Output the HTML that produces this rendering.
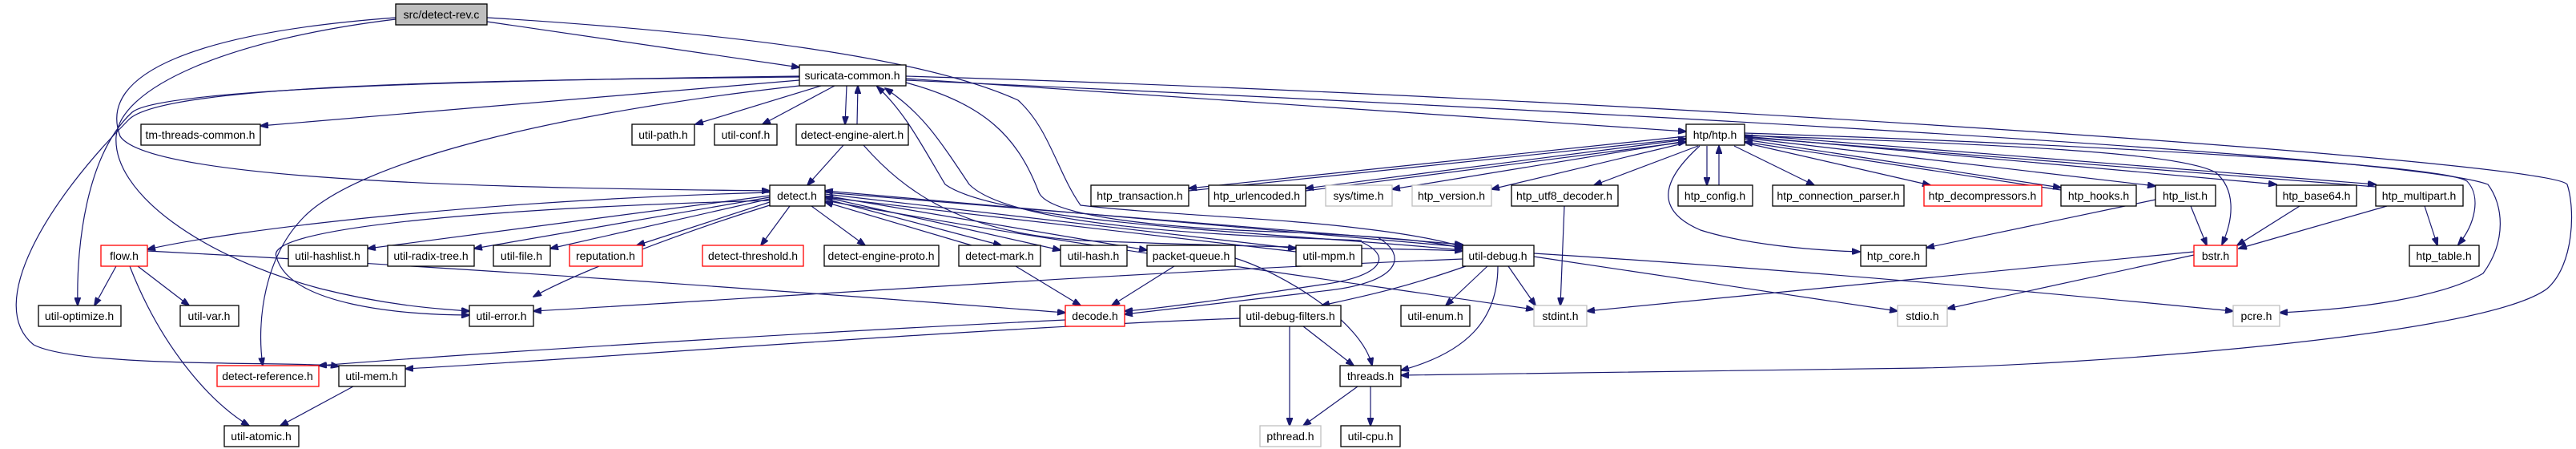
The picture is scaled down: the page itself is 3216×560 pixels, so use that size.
<!DOCTYPE html>
<html><head><meta charset="utf-8"><style>
html,body{margin:0;padding:0;background:#fff;}
svg{display:block;}
text{font-family:"Liberation Sans",sans-serif;font-size:14px;fill:#000;text-anchor:middle;}
.e{fill:none;stroke:#191970;stroke-width:1.2;marker-end:url(#a);}
</style></head><body>
<svg width="3216" height="560" viewBox="0 0 3216 560" xmlns="http://www.w3.org/2000/svg">
<defs><marker id="a" markerWidth="11" markerHeight="8" refX="10" refY="4" orient="auto" markerUnits="userSpaceOnUse"><path d="M0,0 L11,4 L0,8 z" fill="#191970" stroke="#191970"/></marker></defs>
<g>
<path class="e" d="M608,27 L998,84"/>
<path class="e" d="M494,22 C250,40 120,90 150,170 C190,230 700,235 961,238"/>
<path class="e" d="M494,24 C280,50 150,110 145,170 C140,240 250,320 400,360 C480,380 540,385 586,388"/>
<path class="e" d="M608,22 C900,40 1150,70 1271,125 C1310,160 1320,215 1349,256 C1450,268 1600,272 1700,285 C1760,292 1800,300 1826,308"/>
<path class="e" d="M998,100 L325,157"/>
<path class="e" d="M1025,107 L868,155"/>
<path class="e" d="M1042,107 L952,155"/>
<path class="e" d="M1057,107 L1055,155"/>
<path class="e" d="M1070,155 L1071,107"/>
<path class="e" d="M998,95 C600,100 200,110 165,140 C110,190 95,300 97,381"/>
<path class="e" d="M998,96 C600,100 200,105 160,150 C60,250 -20,380 42,430 C100,460 380,450 423,457"/>
<path class="e" d="M998,107 C700,140 450,200 380,270 C330,320 320,400 328,456"/>
<path class="e" d="M1131,98 L2105,164"/>
<path class="e" d="M1131,100 C1800,130 3000,190 3106,230 C3125,255 3130,300 3100,341 C3050,370 2950,385 2846,390"/>
<path class="e" d="M1131,95 C2000,120 3180,200 3205,230 C3215,260 3214,330 3180,360 C3100,420 2600,455 2400,459 C2100,465 1800,468 1749,468"/>
<path class="e" d="M1131,103 C1230,130 1270,170 1297,240 C1310,270 1450,285 1620,290 C1720,295 1790,300 1826,310"/>
<path class="e" d="M1826,312 C1600,290 1250,280 1180,230 C1150,180 1130,140 1095,108"/>
<path class="e" d="M1700,300 C1600,295 1270,290 1210,230 C1170,170 1150,140 1105,110"/>
<path class="e" d="M1053,181 L1008,231"/>
<path class="e" d="M1078,181 C1130,240 1200,290 1350,300 C1600,310 1780,310 1826,313"/>
<path class="e" d="M961,240 C600,250 300,285 184,311"/>
<path class="e" d="M961,244 L459,310"/>
<path class="e" d="M961,246 L592,310"/>
<path class="e" d="M961,248 L687,310"/>
<path class="e" d="M961,252 L795,306"/>
<path class="e" d="M961,256 C850,290 720,340 666,370"/>
<path class="e" d="M961,250 C600,260 330,285 345,320 C360,380 500,393 586,393"/>
<path class="e" d="M986,257 L950,306"/>
<path class="e" d="M1013,257 L1080,306"/>
<path class="e" d="M1030,248 L1250,306"/>
<path class="e" d="M1213,306 L1030,252"/>
<path class="e" d="M1030,246 L1324,312"/>
<path class="e" d="M1030,244 L1432,312"/>
<path class="e" d="M1030,242 L1618,310"/>
<path class="e" d="M1618,314 L1030,246"/>
<path class="e" d="M1030,240 L1826,305"/>
<path class="e" d="M1826,308 L1030,238"/>
<path class="e" d="M1030,250 C1300,300 1600,340 1915,386"/>
<path class="e" d="M1700,302 C1740,320 1725,345 1650,355 C1550,370 1450,385 1404,388"/>
<path class="e" d="M1720,296 C1760,320 1745,352 1660,362 C1560,374 1450,387 1404,392"/>
<path class="e" d="M145,332 L118,381"/>
<path class="e" d="M172,332 L236,381"/>
<path class="e" d="M162,332 C200,430 260,500 311,531"/>
<path class="e" d="M184,313 C700,340 1200,380 1330,390"/>
<path class="e" d="M441,482 L350,531"/>
<path class="e" d="M1268,332 L1349,381"/>
<path class="e" d="M1466,332 L1388,381"/>
<path class="e" d="M1542,322 C1600,340 1700,400 1713,456"/>
<path class="e" d="M1330,399 C1000,415 600,440 398,456"/>
<path class="e" d="M1548,397 C1200,410 700,450 506,460"/>
<path class="e" d="M1610,407 L1610,531"/>
<path class="e" d="M1627,407 L1690,456"/>
<path class="e" d="M1695,482 L1627,531"/>
<path class="e" d="M1711,482 L1711,531"/>
<path class="e" d="M1826,323 C1400,340 900,375 666,388"/>
<path class="e" d="M1830,332 C1750,360 1700,370 1650,381"/>
<path class="e" d="M1857,332 L1805,381"/>
<path class="e" d="M1883,332 L1917,381"/>
<path class="e" d="M1870,332 C1870,400 1830,440 1749,462"/>
<path class="e" d="M1915,320 L2369,388"/>
<path class="e" d="M1915,316 C2300,340 2600,370 2788,388"/>
<path class="e" d="M1953,257 L1948,381"/>
<path class="e" d="M2739,314 L1981,388"/>
<path class="e" d="M2739,318 L2431,385"/>
<path class="e" d="M2691,249 L2405,309"/>
<path class="e" d="M2735,257 L2755,306"/>
<path class="e" d="M2871,257 L2793,306"/>
<path class="e" d="M2980,257 L2795,310"/>
<path class="e" d="M3027,257 L3043,306"/>
<path class="e" d="M2105,170 L1484,235"/>
<path class="e" d="M1484,238 L2105,173"/>
<path class="e" d="M2105,174 L1630,235"/>
<path class="e" d="M1630,238 L2105,177"/>
<path class="e" d="M2105,176 L1738,236"/>
<path class="e" d="M2105,178 L1862,236"/>
<path class="e" d="M2120,182 L1990,231"/>
<path class="e" d="M2131,182 L2131,231"/>
<path class="e" d="M2146,231 L2146,182"/>
<path class="e" d="M2165,182 L2265,231"/>
<path class="e" d="M2178,178 L2410,231"/>
<path class="e" d="M2178,174 L2573,234"/>
<path class="e" d="M2573,237 L2178,177"/>
<path class="e" d="M2178,172 L2691,232"/>
<path class="e" d="M2178,170 L2842,230"/>
<path class="e" d="M2178,168 L2966,230"/>
<path class="e" d="M2966,233 L2178,171"/>
<path class="e" d="M2178,166 C2600,180 3050,205 3080,226 C3098,245 3090,280 3069,305"/>
<path class="e" d="M2178,169 C2500,180 2720,190 2766,215 C2790,235 2790,270 2774,305"/>
<path class="e" d="M2122,182 C2080,220 2060,260 2123,287 C2180,305 2260,312 2322,314"/>
</g>
<g stroke-width="1.3">
<rect x="494" y="5" width="114" height="26" fill="#bfbfbf" stroke="#000"/><text x="551" y="23">src/detect-rev.c</text>
<rect x="998" y="81" width="133" height="26" fill="#fff" stroke="#000"/><text x="1064" y="99">suricata-common.h</text>
<rect x="176" y="155" width="149" height="26" fill="#fff" stroke="#000"/><text x="250" y="173">tm-threads-common.h</text>
<rect x="789" y="155" width="78" height="26" fill="#fff" stroke="#000"/><text x="828" y="173">util-path.h</text>
<rect x="892" y="155" width="78" height="26" fill="#fff" stroke="#000"/><text x="931" y="173">util-conf.h</text>
<rect x="994" y="155" width="140" height="26" fill="#fff" stroke="#000"/><text x="1064" y="173">detect-engine-alert.h</text>
<rect x="2105" y="155" width="73" height="26" fill="#fff" stroke="#000"/><text x="2141" y="173">htp/htp.h</text>
<rect x="961" y="231" width="69" height="26" fill="#fff" stroke="#000"/><text x="995" y="249">detect.h</text>
<rect x="1362" y="231" width="122" height="26" fill="#fff" stroke="#000"/><text x="1423" y="249">htp_transaction.h</text>
<rect x="1509" y="231" width="121" height="26" fill="#fff" stroke="#000"/><text x="1569" y="249">htp_urlencoded.h</text>
<rect x="1655" y="231" width="83" height="26" fill="#fff" stroke="#bfbfbf"/><text x="1696" y="249">sys/time.h</text>
<rect x="1763" y="231" width="99" height="26" fill="#fff" stroke="#bfbfbf"/><text x="1812" y="249">htp_version.h</text>
<rect x="1887" y="231" width="133" height="26" fill="#fff" stroke="#000"/><text x="1953" y="249">htp_utf8_decoder.h</text>
<rect x="2095" y="231" width="93" height="26" fill="#fff" stroke="#000"/><text x="2141" y="249">htp_config.h</text>
<rect x="2213" y="231" width="164" height="26" fill="#fff" stroke="#000"/><text x="2295" y="249">htp_connection_parser.h</text>
<rect x="2402" y="231" width="147" height="26" fill="#fff" stroke="#ff0000"/><text x="2475" y="249">htp_decompressors.h</text>
<rect x="2573" y="231" width="94" height="26" fill="#fff" stroke="#000"/><text x="2620" y="249">htp_hooks.h</text>
<rect x="2691" y="231" width="75" height="26" fill="#fff" stroke="#000"/><text x="2728" y="249">htp_list.h</text>
<rect x="2842" y="231" width="100" height="26" fill="#fff" stroke="#000"/><text x="2892" y="249">htp_base64.h</text>
<rect x="2966" y="231" width="109" height="26" fill="#fff" stroke="#000"/><text x="3020" y="249">htp_multipart.h</text>
<rect x="126" y="306" width="58" height="26" fill="#fff" stroke="#ff0000"/><text x="155" y="324">flow.h</text>
<rect x="360" y="306" width="99" height="26" fill="#fff" stroke="#000"/><text x="409" y="324">util-hashlist.h</text>
<rect x="484" y="306" width="108" height="26" fill="#fff" stroke="#000"/><text x="538" y="324">util-radix-tree.h</text>
<rect x="616" y="306" width="71" height="26" fill="#fff" stroke="#000"/><text x="651" y="324">util-file.h</text>
<rect x="711" y="306" width="91" height="26" fill="#fff" stroke="#ff0000"/><text x="756" y="324">reputation.h</text>
<rect x="877" y="306" width="126" height="26" fill="#fff" stroke="#ff0000"/><text x="940" y="324">detect-threshold.h</text>
<rect x="1029" y="306" width="143" height="26" fill="#fff" stroke="#000"/><text x="1100" y="324">detect-engine-proto.h</text>
<rect x="1197" y="306" width="102" height="26" fill="#fff" stroke="#000"/><text x="1248" y="324">detect-mark.h</text>
<rect x="1324" y="306" width="83" height="26" fill="#fff" stroke="#000"/><text x="1365" y="324">util-hash.h</text>
<rect x="1432" y="306" width="110" height="26" fill="#fff" stroke="#000"/><text x="1487" y="324">packet-queue.h</text>
<rect x="1618" y="306" width="82" height="26" fill="#fff" stroke="#000"/><text x="1659" y="324">util-mpm.h</text>
<rect x="1826" y="306" width="89" height="26" fill="#fff" stroke="#000"/><text x="1870" y="324">util-debug.h</text>
<rect x="2323" y="306" width="82" height="26" fill="#fff" stroke="#000"/><text x="2364" y="324">htp_core.h</text>
<rect x="2739" y="306" width="54" height="26" fill="#fff" stroke="#ff0000"/><text x="2766" y="324">bstr.h</text>
<rect x="3008" y="306" width="87" height="26" fill="#fff" stroke="#000"/><text x="3051" y="324">htp_table.h</text>
<rect x="48" y="381" width="103" height="26" fill="#fff" stroke="#000"/><text x="99" y="399">util-optimize.h</text>
<rect x="225" y="381" width="73" height="26" fill="#fff" stroke="#000"/><text x="261" y="399">util-var.h</text>
<rect x="586" y="381" width="80" height="26" fill="#fff" stroke="#000"/><text x="626" y="399">util-error.h</text>
<rect x="1330" y="381" width="74" height="26" fill="#fff" stroke="#ff0000"/><text x="1367" y="399">decode.h</text>
<rect x="1548" y="381" width="126" height="26" fill="#fff" stroke="#000"/><text x="1611" y="399">util-debug-filters.h</text>
<rect x="1749" y="381" width="86" height="26" fill="#fff" stroke="#000"/><text x="1792" y="399">util-enum.h</text>
<rect x="1915" y="381" width="66" height="26" fill="#fff" stroke="#bfbfbf"/><text x="1948" y="399">stdint.h</text>
<rect x="2369" y="381" width="62" height="26" fill="#fff" stroke="#bfbfbf"/><text x="2400" y="399">stdio.h</text>
<rect x="2788" y="381" width="58" height="26" fill="#fff" stroke="#bfbfbf"/><text x="2817" y="399">pcre.h</text>
<rect x="271" y="456" width="127" height="26" fill="#fff" stroke="#ff0000"/><text x="334" y="474">detect-reference.h</text>
<rect x="423" y="456" width="83" height="26" fill="#fff" stroke="#000"/><text x="464" y="474">util-mem.h</text>
<rect x="1673" y="456" width="76" height="26" fill="#fff" stroke="#000"/><text x="1711" y="474">threads.h</text>
<rect x="280" y="531" width="93" height="26" fill="#fff" stroke="#000"/><text x="326" y="549">util-atomic.h</text>
<rect x="1573" y="531" width="76" height="26" fill="#fff" stroke="#bfbfbf"/><text x="1611" y="549">pthread.h</text>
<rect x="1674" y="531" width="74" height="26" fill="#fff" stroke="#000"/><text x="1711" y="549">util-cpu.h</text>
</g>
</svg>
</body></html>
